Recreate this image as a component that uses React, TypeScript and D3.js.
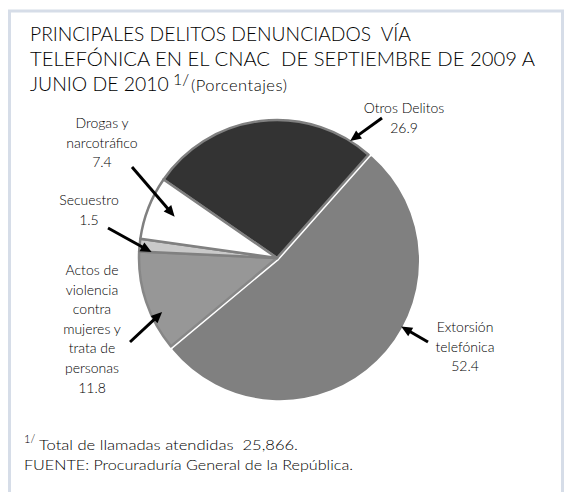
import { useMemo } from 'react';
import * as d3 from 'd3';

// Principales delitos denunciados vía telefónica (porcentajes)
const CATEGORIES = [
  'Otros Delitos',
  'Extorsión telefónica',
  'Actos de violencia contra mujeres y trata de personas',
  'Secuestro',
  'Drogas y narcotráfico',
];
const VALUES = [26.9, 52.4, 11.8, 1.5, 7.4];
const LABEL_LINES = [
  ['Otros Delitos'],
  ['Extorsión', 'telefónica'],
  ['Actos de', 'violencia', 'contra', 'mujeres y', 'trata de', 'personas'],
  ['Secuestro'],
  ['Drogas y', 'narcotráfico'],
];

const FILLS = ['#333333', '#808080', '#979797', '#c9c9c9', '#ffffff'];
const STROKES = ['#808080', '#808080', '#878787', '#808080', '#808080'];

const W = 564;
const H = 492;
const FONT = "Lato, 'Open Sans', sans-serif";
const TEXT = '#000';
const PRE = { whiteSpace: 'pre' } as const;

const cx = 277;
const cy = 258;
const radius = 138;
const startDeg = -55.3;

// callout layout: label anchor, arrow tail, arrow head (angle from 12 o'clock, radius share)
const CALLOUTS = [
  { x: 404, y: 113, tail: [382, 118], angle: 32, share: 1.0 },
  { x: 465, y: 332, tail: [428, 342], angle: 118.4, share: 1.0 },
  { x: 92, y: 275, tail: [130, 342], angle: 244.8, share: 0.92 },
  { x: 89, y: 205, tail: [108, 228], angle: 272.7, share: 0.91 },
  { x: 102, y: 128, tail: [132, 167], angle: 292, share: 0.8 },
];
const EXPLODE = [0, 4, 0, 0, 0];
const LINE_H = 19.6;

function Arrow({ x1, y1, x2, y2 }: { x1: number; y1: number; x2: number; y2: number }) {
  const len = Math.hypot(x2 - x1, y2 - y1);
  const ux = (x2 - x1) / len;
  const uy = (y2 - y1) / len;
  const headL = 11;
  const headW = 5;
  const bx = x2 - ux * headL;
  const by = y2 - uy * headL;
  const pts = [
    [x2, y2],
    [bx - uy * headW, by + ux * headW],
    [bx + uy * headW, by - ux * headW],
  ];
  return (
    <g>
      <line x1={x1} y1={y1} x2={bx + ux * 1} y2={by + uy * 1} stroke="#000" strokeWidth={3} />
      <polygon points={pts.map((p) => p.join(',')).join(' ')} fill="#000" />
    </g>
  );
}

export default function App() {
  const arcs = useMemo(() => {
    const pie = d3
      .pie<number>()
      .sort(null)
      .startAngle((startDeg * Math.PI) / 180)
      .endAngle((startDeg * Math.PI) / 180 + 2 * Math.PI);
    return pie(VALUES);
  }, []);

  const arc = d3.arc<d3.PieArcDatum<number>>().innerRadius(0).outerRadius(radius);

  const offsetOf = (i: number) => {
    const a = (arcs[i].startAngle + arcs[i].endAngle) / 2;
    return [Math.sin(a) * EXPLODE[i], -Math.cos(a) * EXPLODE[i]];
  };

  return (
    <svg width={W} height={H} style={{ position: 'absolute', left: 0, top: 0, background: '#fff' }}>
      <rect x={9.5} y={11} width={553} height={500} fill="#fff" stroke="#d6dde8" strokeWidth={3} />

      <g fontFamily={FONT} fontWeight={300} fill={TEXT}>
        <text x={30} y={41} fontSize={20} style={PRE} textLength={381} lengthAdjust="spacingAndGlyphs">
          {'PRINCIPALES DELITOS DENUNCIADOS  VÍA'}
        </text>
        <text x={30} y={66} fontSize={20} style={PRE} textLength={505} lengthAdjust="spacingAndGlyphs">
          {'TELEFÓNICA EN EL CNAC  DE SEPTIEMBRE DE 2009 A'}
        </text>
        <text x={30} y={91} fontSize={19.4}>
          <tspan x={30}>JUNIO DE 2010</tspan>
          <tspan x={173} dy={-6} fontSize={16}>
            1/
          </tspan>
          <tspan x={191} dy={6} fontSize={16.5} letterSpacing={0.5}>
            (Porcentajes)
          </tspan>
        </text>
      </g>

      <g>
        {arcs.map((d, i) => {
          const [dx, dy] = offsetOf(i);
          return (
            <path
              key={CATEGORIES[i]}
              d={arc(d) as string}
              transform={`translate(${cx + dx},${cy + dy})`}
              fill={FILLS[i]}
              stroke={STROKES[i]}
              strokeWidth={2.5}
              strokeLinejoin="round"
            />
          );
        })}
      </g>

      <g fontFamily={FONT} fontWeight={300} fontSize={14} fill={TEXT} textAnchor="middle">
        {CALLOUTS.map((c, i) => {
          const lines = [...LABEL_LINES[i], VALUES[i].toFixed(1)];
          const [dx, dy] = offsetOf(i);
          const a = (c.angle * Math.PI) / 180;
          const hx = cx + dx + Math.sin(a) * radius * c.share;
          const hy = cy + dy - Math.cos(a) * radius * c.share;
          return (
            <g key={CATEGORIES[i]}>
              <text x={c.x} y={c.y}>
                {lines.map((l, j) => (
                  <tspan key={j} x={c.x} y={c.y + j * LINE_H}>
                    {l}
                  </tspan>
                ))}
              </text>
              <Arrow x1={c.tail[0]} y1={c.tail[1]} x2={hx} y2={hy} />
            </g>
          );
        })}
      </g>

      <g fontFamily={FONT} fontWeight={300} fill={TEXT}>
        <text x={24} y={443} fontSize={11}>
          1/
        </text>
        <text x={39} y={450} fontSize={14} style={PRE} textLength={259} lengthAdjust="spacingAndGlyphs">
          {'Total de llamadas atendidas  25,866.'}
        </text>
        <text x={24} y={470} fontSize={14} textLength={329} lengthAdjust="spacingAndGlyphs">
          FUENTE: Procuraduría General de la República.
        </text>
      </g>
    </svg>
  );
}
